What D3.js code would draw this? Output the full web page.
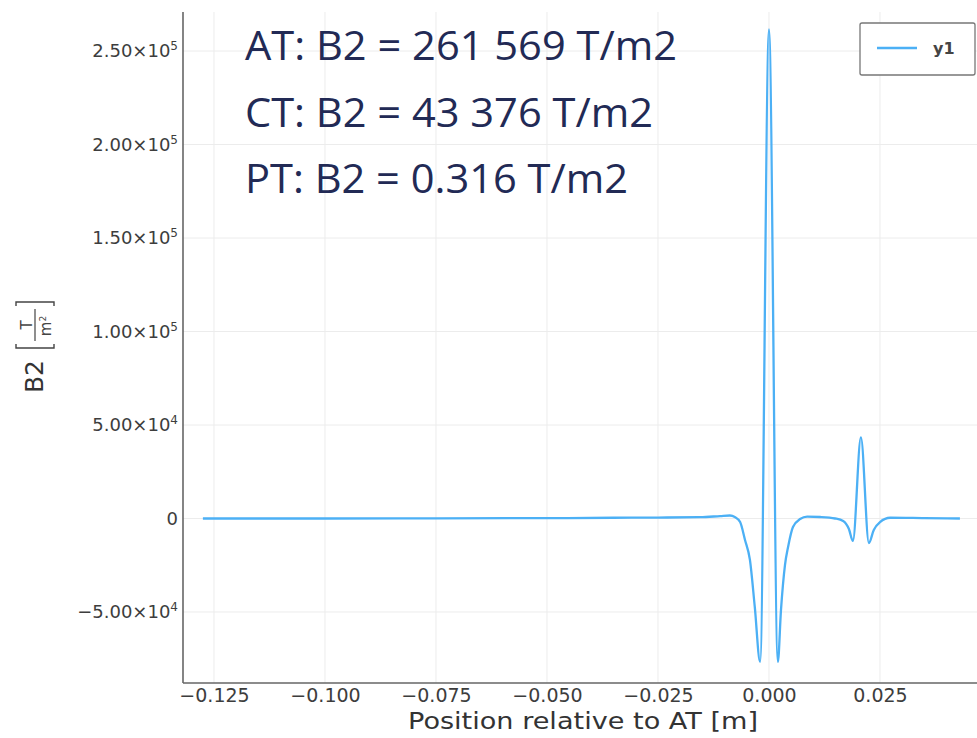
<!DOCTYPE html>
<html>
<head>
<meta charset="utf-8">
<script src="https://cdn.jsdelivr.net/npm/d3@7"></script>
<style>
  body { margin: 0; background: #fff; }
  svg { display: block; }
</style>
</head>
<body>
<svg id="chart"></svg>
<script>
// position relative to AT [m]
var positions = [-0.1275, -0.10, -0.075, -0.05, -0.035, -0.025, -0.0155, -0.011, -0.0088, -0.0077,
  -0.0065, -0.0054, -0.0043, -0.0032, -0.0020, 0.0, 0.0020, 0.0027, 0.0036, 0.0043,
  0.0054, 0.0070, 0.0086, 0.0115, 0.0149, 0.0167, 0.0180, 0.0189, 0.0207, 0.0225,
  0.0236, 0.0250, 0.0273, 0.035, 0.043];
// B2 [T/m2]
var b2 = [0, 0, 100, 200, 400, 500, 700, 1300, 1600, 800,
  -1900, -11500, -22000, -47300, -76700, 261569, -76700, -49000, -24900, -15200,
  -4500, -300, 1000, 800, 0, -1300, -5600, -12000, 43376, -13100,
  -6100, -1900, 400, 200, 0];

var xTicks = [-0.125, -0.100, -0.075, -0.050, -0.025, 0.000, 0.025];
var yTicks = [-50000, 0, 50000, 100000, 150000, 200000, 250000];
var yTickMant = ["\u22125.00", "0", "5.00", "1.00", "1.50", "2.00", "2.50"];
var yTickExp = ["4", "", "4", "5", "5", "5", "5"];

var notes = ["AT: B2 = 261 569 T/m2", "CT: B2 = 43 376 T/m2", "PT: B2 = 0.316 T/m2"];
var noteWidths = [432, 408, 383];

var seriesName = "y1";

var W = 977, H = 738;
var margins = { top: 12, bottom: 55, left: 183, right: 0 };

var svg = d3.select("#chart").attr("width", W).attr("height", H);

var xScale = d3.scaleLinear()
  .domain([-0.13198, 0.04685])
  .range([margins.left, W - margins.right]);

var yScale = d3.scaleLinear()
  .domain([-87970, 270860])
  .range([H - margins.bottom, margins.top]);

var font = "DejaVu Sans, sans-serif";
var lineColor = "#4cb0f5";

// grid
svg.append("g").selectAll("line").data(xTicks).enter().append("line")
  .attr("x1", function(d) { return xScale(d); })
  .attr("x2", function(d) { return xScale(d); })
  .attr("y1", margins.top).attr("y2", H - margins.bottom)
  .attr("stroke", "#ececec").attr("stroke-width", 1);

svg.append("g").selectAll("line").data(yTicks).enter().append("line")
  .attr("x1", margins.left).attr("x2", W - margins.right)
  .attr("y1", function(d) { return yScale(d); })
  .attr("y2", function(d) { return yScale(d); })
  .attr("stroke", "#ececec").attr("stroke-width", 1);

// axes
var xAxis = d3.axisBottom(xScale).tickValues(xTicks).tickSize(0).tickPadding(6)
  .tickFormat(function(d) { return d3.format(".3f")(d).replace("-", "\u2212"); });
var gx = svg.append("g")
  .attr("transform", "translate(0," + (H - margins.bottom) + ")")
  .call(xAxis);
gx.select(".domain").attr("stroke", "#666").attr("stroke-width", 1.6)
  .attr("d", "M" + margins.left + ",0H" + (W - margins.right));
gx.selectAll("text").attr("font-family", font).attr("font-size", 19).attr("fill", "#3d3d3d");

var yAxis = d3.axisLeft(yScale).tickValues(yTicks).tickSize(0).tickFormat("");
var gy = svg.append("g")
  .attr("transform", "translate(" + margins.left + ",0)")
  .call(yAxis);
gy.select(".domain").attr("stroke", "#666").attr("stroke-width", 1.6)
  .attr("d", "M0," + margins.top + "V" + (H - margins.bottom));

var yLab = svg.append("g").selectAll("text").data(yTicks).enter().append("text")
  .attr("x", 178)
  .attr("y", function(d) { return yScale(d); })
  .attr("dy", "0.36em")
  .attr("text-anchor", "end")
  .attr("font-family", font).attr("font-size", 18).attr("fill", "#3d3d3d");
yLab.each(function(d, i) {
  var t = d3.select(this);
  if (yTickExp[i] === "") { t.text(yTickMant[i]); return; }
  t.append("tspan").text(yTickMant[i] + "\u00d710");
  t.append("tspan").attr("dy", -7).attr("font-size", 12).text(yTickExp[i]);
});

// x axis title
svg.append("text")
  .attr("x", 583).attr("y", 729)
  .attr("text-anchor", "middle")
  .attr("font-family", font).attr("font-size", 23).attr("fill", "#333")
  .attr("textLength", 350).attr("lengthAdjust", "spacingAndGlyphs")
  .text("Position relative to AT [m]");

// y axis title: B2 [T / m²]
var yt = svg.append("g").attr("transform", "translate(43,0) rotate(-90)");
yt.append("text")
  .attr("x", -393).attr("y", 0)
  .attr("font-family", font).attr("font-size", 25).attr("fill", "#333")
  .attr("textLength", 33).attr("lengthAdjust", "spacingAndGlyphs")
  .text("B2");
yt.append("path")
  .attr("d", "M-344,-27H-348V11H-344 M-306,-27H-302V11H-306")
  .attr("fill", "none").attr("stroke", "#444").attr("stroke-width", 1.4);
yt.append("line")
  .attr("x1", -341).attr("x2", -309).attr("y1", -8).attr("y2", -8)
  .attr("stroke", "#444").attr("stroke-width", 1.2);
yt.append("text")
  .attr("x", -325).attr("y", -11).attr("text-anchor", "middle")
  .attr("font-family", font).attr("font-size", 15).attr("fill", "#444")
  .text("T");
var mt = yt.append("text")
  .attr("x", -326).attr("y", 8).attr("text-anchor", "middle")
  .attr("font-family", font).attr("font-size", 15).attr("fill", "#444");
mt.append("tspan").text("m");
mt.append("tspan").attr("dy", -5).attr("font-size", 9).text("2");

// data line
var pts = positions.map(function(p, i) { return [p, b2[i]]; });
var line = d3.line()
  .x(function(d) { return xScale(d[0]); })
  .y(function(d) { return yScale(d[1]); })
  .curve(d3.curveMonotoneX);
svg.append("path")
  .datum(pts)
  .attr("d", line)
  .attr("fill", "none")
  .attr("stroke", lineColor)
  .attr("stroke-width", 2.3)
  .attr("stroke-linejoin", "round");

// legend
var lg = svg.append("g");
lg.append("rect")
  .attr("x", 860).attr("y", 23).attr("width", 115).attr("height", 52)
  .attr("rx", 2).attr("fill", "#fff").attr("stroke", "#777").attr("stroke-width", 1.3);
lg.append("line")
  .attr("x1", 877).attr("x2", 917).attr("y1", 48).attr("y2", 48)
  .attr("stroke", lineColor).attr("stroke-width", 2.5);
lg.append("text")
  .attr("x", 933).attr("y", 54)
  .attr("font-family", font).attr("font-size", 16).attr("font-weight", "bold").attr("fill", "#444")
  .text(seriesName);

// annotations
svg.append("g").selectAll("text").data(notes).enter().append("text")
  .attr("x", 245)
  .attr("y", function(d, i) { return 60 + i * 66.5; })
  .attr("font-family", "Open Sans, sans-serif").attr("font-size", 41)
  .attr("fill", "#222a55")
  .attr("textLength", function(d, i) { return noteWidths[i]; })
  .attr("lengthAdjust", "spacingAndGlyphs")
  .text(function(d) { return d; });
</script>
</body>
</html>
